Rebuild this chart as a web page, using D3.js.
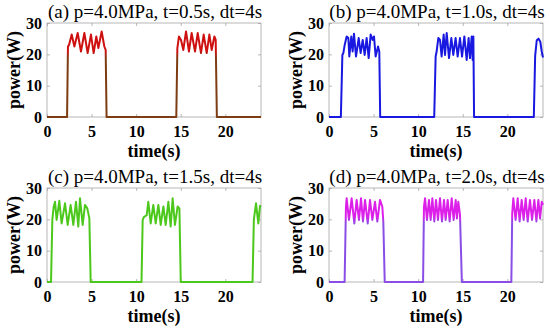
<!DOCTYPE html>
<html><head><meta charset="utf-8">
<script src="https://cdn.jsdelivr.net/npm/d3@7"></script>
<style>
html,body{margin:0;padding:0;background:#fff;}
svg{display:block;}
</style>
</head><body>
<svg id="chart" width="550" height="330"></svg>
<script>
// ---- data ----
const xTicks = [0, 5, 10, 15, 20];
const yTicks = [0, 10, 20, 30];
const titles = ["(a) p=4.0MPa, t=0.5s, dt=4s", "(b) p=4.0MPa, t=1.0s, dt=4s",
                "(c) p=4.0MPa, t=1.5s, dt=4s", "(d) p=4.0MPa, t=2.0s, dt=4s"];
const xLabel = "time(s)";
const yLabel = "power(W)";

const timeA = [0,2.25,2.35,2.47,2.77,3.07,3.44,3.81,4.19,4.56,4.93,5.23,5.53,5.76,6.13,6.43,6.58,6.68,
  14.5,14.62,14.8,15.03,15.29,15.59,15.92,16.22,16.6,16.9,17.27,17.57,17.91,18.21,18.47,18.77,18.92,19.05,24];
const powerA = [0,0,22.5,23,26.3,22.5,26.8,20.9,26.8,20.4,26.3,20.4,25.7,22,27.3,22.5,21.4,0,
  0,22,25.7,24.6,21.4,27.3,20.9,26.8,20.9,26.8,20.4,26.3,20.4,26.3,21.4,25.7,24.6,0,0];

const timeB = [0,1.33,1.5,1.61,1.76,1.98,2.17,2.28,2.5,2.65,2.8,3.03,3.33,3.55,3.78,4.0,4.22,4.45,4.67,4.9,5.05,5.23,5.5,5.64,5.74,
  11.8,11.96,12.07,12.26,12.45,12.63,12.86,13.01,13.2,13.46,13.72,13.94,14.2,14.43,14.69,14.92,15.18,15.44,15.66,15.81,16.0,16.11,16.19,16.27,
  22.97,23.12,23.3,23.5,23.7,23.85,24];
const powerB = [0,0,19.8,20.4,23,25.7,25.2,19.3,25.7,20.9,26.6,19.3,25.2,20.4,24.6,19.8,25.2,18.8,26.3,24.6,25.7,19.3,22.5,20.9,0,
  0,19.3,20.9,25.2,24.6,19.3,26.3,19.8,26.8,18.8,25.2,19.8,25.2,19.3,25.2,19.3,25.7,18.2,25.2,18.8,25.7,18.2,25.7,0,
  0,19.5,24.5,25,24,21,19];

const timeC = [0,0.45,0.6,0.75,0.9,1.08,1.38,1.64,2.02,2.32,2.65,2.95,3.25,3.51,3.7,4.0,4.26,4.52,4.75,4.9,
  10.6,10.73,10.88,11.18,11.36,11.63,11.92,12.19,12.49,12.75,13.05,13.31,13.61,13.87,14.09,14.35,14.65,14.85,15.0,
  23.05,23.2,23.44,23.7,23.89,24];
const powerC = [0,0,20,24,25.6,19.8,25.9,18.7,25.1,18.2,24.6,18.2,25.6,17.7,26.7,18.2,24.6,23.5,20.3,0,
  0,19.8,20.8,21.3,25.6,18.7,24.6,18.7,24.6,18.2,24.1,18.2,25.6,17.7,26.7,18.2,24.1,23.5,0,
  0,20,25.1,18.7,24.3,24];

const timeD = [0,1.75,1.9,1.98,2.24,2.54,2.84,3.1,3.36,3.59,3.81,4.04,4.34,4.6,4.86,5.16,5.42,5.72,5.98,6.09,6.25,
  10.55,10.65,10.77,10.99,11.21,11.4,11.59,11.81,12.0,12.22,12.45,12.67,12.9,13.08,13.31,13.53,13.76,13.98,14.21,14.35,14.5,14.69,14.9,
  20.45,20.55,20.67,20.93,21.16,21.38,21.61,21.83,22.06,22.28,22.54,22.77,23.03,23.26,23.48,23.67,23.86,24];
const powerD = [0,0,24,26.7,19.8,26.7,18.7,26.2,19.8,26.7,19.3,26.2,18.7,26.2,19.8,25.6,19.3,26.2,24.0,19.3,0,
  0,24,26.7,19.8,26.2,19.8,26.7,19.3,26.2,19.8,26.7,19.3,26.2,19.8,26.2,19.3,26.7,19.8,26.2,20.3,25.6,21.5,0,
  0,22,26.7,19.8,26.7,19.3,26.2,19.8,26.7,19.3,26.2,19.8,26.2,19.3,26.2,20.3,25.6,24.6];

const seriesTimes = [timeA, timeB, timeC, timeD];
const seriesPowers = [powerA, powerB, powerC, powerD];
const topColors = ["#cf1010", "#1818e0", "#4cc81c", "#dc20ea"];
const bottomColors = ["#7e3c12", "#1818e0", "#4cc81c", "#8a4ee6"];

// ---- layout ----
const svg = d3.select("#chart");
const defs = svg.append("defs");
const panels = [
  {left: 47, top: 23}, {left: 329, top: 23},
  {left: 47, top: 188}, {left: 329, top: 188}
];
const W = 214, H = 94;
const serif = "'Liberation Serif','Times New Roman',serif";

panels.forEach((p, i) => {
  const x = d3.scaleLinear().domain([0, 24]).range([p.left, p.left + W]);
  const y = d3.scaleLinear().domain([0, 30]).range([p.top + H, p.top]);
  const g = svg.append("g");

  // gradient
  const gid = "grad" + i;
  const grad = defs.append("linearGradient").attr("id", gid)
    .attr("gradientUnits", "userSpaceOnUse")
    .attr("x1", 0).attr("x2", 0).attr("y1", y(30)).attr("y2", y(0));
  grad.append("stop").attr("offset", 0).attr("stop-color", topColors[i]);
  grad.append("stop").attr("offset", 0.3).attr("stop-color", topColors[i]);
  grad.append("stop").attr("offset", 0.38).attr("stop-color", bottomColors[i]);
  grad.append("stop").attr("offset", 1).attr("stop-color", bottomColors[i]);

  // box
  g.append("rect").attr("x", p.left).attr("y", p.top).attr("width", W).attr("height", H)
    .attr("fill", "none").attr("stroke", "#a6a6a6").attr("stroke-width", 0.8);

  // axes
  const tickLen = 3;
  const xb = g.append("g").attr("transform", `translate(0,${p.top + H})`)
    .call(d3.axisBottom(x).tickValues(xTicks).tickSizeInner(-tickLen).tickSizeOuter(0).tickPadding(9));
  const xt = g.append("g").attr("transform", `translate(0,${p.top})`)
    .call(d3.axisTop(x).tickValues(xTicks).tickSizeInner(-tickLen).tickSizeOuter(0).tickFormat(""));
  const yl = g.append("g").attr("transform", `translate(${p.left},0)`)
    .call(d3.axisLeft(y).tickValues(yTicks).tickSizeInner(-tickLen).tickSizeOuter(0).tickPadding(5));
  const yr = g.append("g").attr("transform", `translate(${p.left + W},0)`)
    .call(d3.axisRight(y).tickValues(yTicks).tickSizeInner(-tickLen).tickSizeOuter(0).tickFormat(""));
  [xb, xt, yl, yr].forEach(a => {
    a.select(".domain").remove();
    a.selectAll(".tick line").attr("stroke", "#a6a6a6").attr("stroke-width", 0.8);
    a.selectAll(".tick text").attr("fill", "#000").style("font-family", serif)
      .style("font-size", "16px").style("font-weight", "bold");
  });

  // line
  const pts = seriesTimes[i].map((t, k) => [t, seriesPowers[i][k]]);
  g.append("path").datum(pts)
    .attr("fill", "none").attr("stroke", `url(#${gid})`).attr("stroke-width", 2)
    .attr("stroke-linejoin", "round")
    .attr("d", d3.line().x(d => x(d[0])).y(d => y(d[1])));

  // title
  svg.append("text").attr("x", p.left + W / 2 + 1).attr("y", p.top - 5)
    .attr("text-anchor", "middle").style("font-family", serif).style("font-size", "19px")
    .attr("fill", "#000").text(titles[i]);
  // x label
  svg.append("text").attr("x", p.left + W / 2).attr("y", p.top + H + 40)
    .attr("text-anchor", "middle").style("font-family", serif).style("font-size", "18px")
    .style("font-weight", "bold").attr("fill", "#000").text(xLabel);
  // y label
  svg.append("text").attr("transform", `translate(${p.left - 27},${p.top + H / 2}) rotate(-90)`)
    .attr("text-anchor", "middle").style("font-family", serif).style("font-size", "18px")
    .style("font-weight", "bold").attr("fill", "#000").text(yLabel);
});
</script>
</body></html>
